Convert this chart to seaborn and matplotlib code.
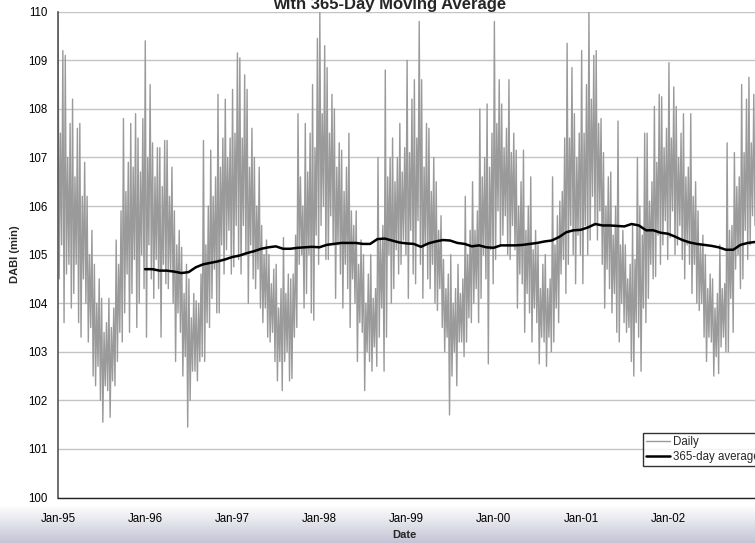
import numpy as np
import pandas as pd
import matplotlib
matplotlib.use("Agg")
import matplotlib.pyplot as plt
import matplotlib.dates as mdates
import seaborn as sns

# ---- data (DABI, minutes) ----
# daily series, sampled: six readings per month (alternating highs and lows)
d1995 = [110.0, 104.5, 107.5, 105.2, 109.2, 103.6,
         109.1, 104.6, 107.0, 104.8, 107.7, 103.9,
         108.2, 104.2, 106.6, 104.8, 107.6, 103.6,
         107.7, 103.3, 106.2, 104.5, 106.9, 104.0,
         106.2, 103.2, 105.0, 103.5, 105.5, 102.5,
         104.8, 102.3, 104.0, 102.7, 104.5, 102.0,
         104.1, 101.55, 103.4, 102.3, 103.6, 102.2,
         104.1, 101.65, 103.5, 102.4, 103.9, 102.3,
         105.3, 102.8, 104.8, 103.4, 105.9, 103.2,
         107.8, 103.8, 106.3, 104.6, 106.9, 103.4,
         107.7, 104.2, 106.8, 104.9, 107.9, 103.5,
         107.4, 104.0, 106.7, 105.0, 107.8, 104.3]
d1996 = [109.4, 103.3, 107.0, 105.2, 108.5, 104.5,
         107.3, 104.1, 106.6, 104.9, 107.2, 104.3,
         107.2, 103.3, 106.4, 104.8, 107.35, 104.4,
         107.35, 104.3, 106.2, 104.7, 106.8, 104.0,
         105.9, 102.8, 105.2, 103.8, 105.5, 103.4,
         105.15, 102.5, 104.2, 102.9, 104.8, 101.45,
         104.5, 102.0, 103.7, 102.6, 104.2, 102.6,
         104.05, 102.4, 104.0, 102.8, 104.6, 102.9,
         107.35, 102.8, 105.2, 103.6, 106.0, 103.5,
         107.15, 104.1, 106.2, 104.7, 106.6, 103.8,
         108.3, 103.8, 106.8, 105.2, 107.4, 104.6,
         108.2, 105.1, 107.0, 105.5, 107.4, 104.6]
d1997 = [108.4, 104.75, 107.5, 105.6, 109.15, 104.9,
         109.05, 104.6, 107.4, 105.6, 108.7, 105.0,
         108.4, 104.0, 106.8, 105.2, 107.6, 104.5,
         107.0, 104.3, 106.0, 104.7, 106.8, 103.9,
         105.6, 103.6, 105.0, 103.9, 105.3, 103.3,
         105.0, 103.2, 104.4, 103.4, 104.7, 102.8,
         104.8, 102.4, 103.9, 102.8, 104.3, 102.2,
         105.35, 102.8, 104.2, 103.0, 104.6, 102.4,
         104.5, 102.45, 104.6, 103.3, 105.4, 103.5,
         107.9, 104.8, 106.6, 105.0, 106.0, 103.9,
         107.7, 104.2, 106.7, 105.0, 107.5, 103.8,
         108.5, 103.65, 107.2, 105.4, 109.45, 104.8]
d1998 = [110.0, 105.6, 107.9, 106.0, 109.3, 104.9,
         108.85, 104.9, 107.5, 105.8, 108.3, 105.2,
         108.0, 104.1, 106.8, 105.2, 107.3, 104.6,
         107.15, 103.9, 106.3, 104.8, 106.8, 104.3,
         107.5, 103.5, 105.9, 104.5, 105.6, 104.0,
         105.9, 102.8, 104.8, 103.6, 105.3, 103.4,
         105.0, 102.2, 104.0, 103.0, 104.6, 102.8,
         105.0, 102.6, 104.1, 103.1, 104.3, 102.7,
         107.0, 103.3, 105.3, 103.9, 105.6, 102.6,
         108.8, 103.3, 106.6, 105.0, 107.0, 104.0,
         107.4, 104.3, 106.5, 105.1, 107.0, 104.6,
         107.7, 104.8, 106.7, 105.3, 107.2, 105.0]
d1999 = [109.0, 104.1, 107.1, 105.5, 108.2, 104.6,
         108.6, 104.4, 107.4, 105.7, 109.8, 104.8,
         108.6, 104.1, 106.8, 105.2, 107.7, 104.5,
         107.6, 104.3, 106.3, 104.8, 107.0, 104.0,
         106.5, 103.85, 105.5, 104.3, 105.8, 103.5,
         104.9, 103.0, 104.3, 103.3, 104.6, 101.7,
         105.0, 102.5, 104.0, 103.0, 104.3, 102.3,
         104.8, 103.2, 104.2, 103.2, 104.5, 102.9,
         106.2, 103.2, 105.0, 103.7, 105.5, 103.6,
         106.5, 104.0, 105.5, 104.3, 105.9, 103.6,
         108.0, 104.1, 106.6, 105.0, 107.0, 104.5,
         108.1, 102.75, 106.8, 105.1, 107.5, 104.4]
d2000 = [109.8, 104.9, 107.7, 105.9, 108.6, 105.2,
         108.1, 105.4, 107.2, 105.8, 107.6, 105.0,
         108.6, 104.9, 107.1, 105.6, 107.5, 105.1,
         107.15, 103.9, 106.0, 104.6, 106.5, 104.4,
         107.15, 103.4, 105.5, 104.2, 106.0, 103.8,
         106.6, 103.2, 105.1, 103.9, 105.5, 103.6,
         105.2, 102.75, 104.3, 103.3, 104.8, 103.2,
         105.0, 102.7, 104.3, 103.3, 104.5, 103.0,
         106.6, 103.2, 105.2, 103.9, 105.8, 103.6,
         106.1, 104.6, 106.3, 104.9, 107.4, 104.2,
         109.35, 104.8, 107.4, 105.6, 108.85, 105.0,
         107.9, 104.4, 107.0, 105.4, 107.5, 105.0]
d2001 = [109.2, 104.4, 107.5, 105.6, 108.5, 105.0,
         110.0, 105.3, 108.2, 106.2, 109.1, 105.6,
         109.2, 105.3, 107.7, 105.9, 107.8, 104.8,
         107.1, 103.9, 106.0, 104.7, 106.6, 104.3,
         106.7, 103.8, 105.4, 104.2, 106.0, 103.4,
         107.75, 103.2, 105.2, 104.0, 105.5, 103.6,
         105.2, 103.4, 104.5, 103.5, 104.8, 102.8,
         105.6, 102.5, 104.9, 103.6, 107.0, 103.3,
         106.0, 102.6, 105.4, 103.9, 107.5, 103.6,
         107.5, 104.1, 106.1, 104.8, 106.5, 104.5,
         108.05, 104.55, 106.9, 105.4, 108.3, 104.8,
         108.25, 105.2, 107.2, 105.7, 107.6, 104.9]
d2002 = [108.95, 105.35, 107.4, 105.9, 108.45, 105.0,
         108.05, 105.2, 107.0, 105.6, 107.5, 104.9,
         107.9, 104.5, 106.6, 105.2, 106.8, 104.8,
         107.9, 104.2, 106.2, 104.8, 106.5, 104.0,
         105.9, 103.85, 105.2, 104.0, 105.4, 103.3,
         105.0, 102.8, 104.3, 103.3, 104.6, 103.2,
         104.5, 102.5, 103.9, 102.9, 104.2, 102.55,
         105.2, 103.1, 104.3, 103.3, 104.4, 103.0,
         107.3, 103.0, 105.5, 104.1, 105.6, 103.4,
         107.1, 104.7, 106.4, 105.0, 106.6, 104.3,
         108.5, 104.5, 107.1, 105.5, 108.2, 104.9,
         108.65, 105.2, 107.3, 105.8, 108.3, 105.6]

# 365-day moving average, monthly readings from Jan-96 to end of 2002
ma1996 = [104.70, 104.70, 104.67, 104.67, 104.65, 104.62, 104.64, 104.74, 104.80, 104.83, 104.86, 104.90]
ma1997 = [104.95, 104.98, 105.03, 105.07, 105.12, 105.15, 105.17, 105.12, 105.12, 105.14, 105.15, 105.16]
ma1998 = [105.15, 105.20, 105.22, 105.24, 105.24, 105.24, 105.22, 105.22, 105.32, 105.33, 105.29, 105.25]
ma1999 = [105.23, 105.22, 105.16, 105.23, 105.27, 105.30, 105.29, 105.24, 105.22, 105.17, 105.19, 105.15]
ma2000 = [105.14, 105.19, 105.19, 105.19, 105.20, 105.22, 105.24, 105.27, 105.29, 105.36, 105.46, 105.50]
ma2001 = [105.51, 105.56, 105.63, 105.60, 105.60, 105.59, 105.58, 105.63, 105.60, 105.50, 105.50, 105.45]
ma2002 = [105.43, 105.37, 105.30, 105.25, 105.22, 105.20, 105.18, 105.15, 105.10, 105.10, 105.20, 105.24, 105.26]

title_text = "with 365-Day Moving Average"
x_label = "Date"
y_label = "DABI (min)"
legend_labels = ["Daily", "365-day average"]

# ---- build frames ----
daily_vals = d1995 + d1996 + d1997 + d1998 + d1999 + d2000 + d2001 + d2002
daily = pd.DataFrame({
    "date": pd.date_range("1995-01-01", "2002-12-31", periods=len(daily_vals)),
    "value": daily_vals,
})
ma_vals = ma1996 + ma1997 + ma1998 + ma1999 + ma2000 + ma2001 + ma2002
ma = pd.DataFrame({
    "date": pd.date_range("1996-01-01", "2002-12-31", periods=len(ma_vals)),
    "value": ma_vals,
})

sns.set_style("white")
plt.rcParams["font.family"] = ["Liberation Sans", "DejaVu Sans"]

W, H = 755, 543
fig = plt.figure(figsize=(W / 100, H / 100), dpi=100)

# bottom gradient band
bg = fig.add_axes([0, 0, 1, 38 / H], zorder=0)
grad = np.linspace(0, 1, 64).reshape(-1, 1)
c_top = np.array([1.0, 1.0, 1.0])
c_bot = np.array([196, 196, 214]) / 255
img = c_bot[None, None, :] * (1 - grad[:, :, None]) + c_top[None, None, :] * grad[:, :, None]
bg.imshow(img, aspect="auto", extent=[0, 1, 0, 1], origin="lower")
bg.set_axis_off()

left, right = 58 / W, 755 / W
top, bottom = 11.7 / H, 497.5 / H
ax = fig.add_axes([left, 1 - bottom, right - left, bottom - top], zorder=1)
ax.patch.set_alpha(0)

sns.lineplot(data=daily, x="date", y="value", ax=ax, color="#9a9a9a", lw=1.0,
             label=legend_labels[0], zorder=2)
sns.lineplot(data=ma, x="date", y="value", ax=ax, color="black", lw=1.8,
             label=legend_labels[1], zorder=3)

ax.set_ylim(100, 110)
ax.set_yticks(range(100, 111))
ax.set_xlim(pd.Timestamp("1995-01-01"), pd.Timestamp("2002-12-31"))
ax.xaxis.set_major_locator(mdates.YearLocator())
ax.xaxis.set_major_formatter(mdates.DateFormatter("%b-%y"))
ax.yaxis.grid(True, color="#c4c4c4", lw=1)
ax.xaxis.grid(False)
ax.set_axisbelow(True)
for s in ["top", "right"]:
    ax.spines[s].set_visible(False)
ax.spines["left"].set_color("#555555")
ax.spines["bottom"].set_color("#222222")
ax.spines["left"].set_linewidth(1.2)
ax.spines["bottom"].set_linewidth(1.0)
ax.tick_params(axis="both", direction="out", length=4, width=1, colors="#222222",
               labelsize=8.3, labelcolor="black")
ax.tick_params(axis="x", pad=7)
ax.set_xlabel("")
ax.set_ylabel("")

fig.text(15 / W, 1 - 254 / H, y_label, rotation=90, ha="center", va="center",
         fontsize=8, fontweight="bold")
fig.text(404 / W, 1 - 535 / H, x_label, ha="center", va="center",
         fontsize=8, fontweight="bold")
fig.text(390 / W, 1 - 8.5 / H, title_text, ha="center", va="baseline",
         fontsize=12, fontweight="bold")

leg = ax.legend(loc="upper left", bbox_to_anchor=(643 / W, 1 - 432.5 / H),
                bbox_transform=fig.transFigure, frameon=True, fancybox=False,
                fontsize=8.3, handlelength=2.0, handletextpad=0.3,
                borderpad=0.3, labelspacing=0.25, borderaxespad=0)
leg.get_frame().set_edgecolor("black")
leg.get_frame().set_linewidth(1.0)
leg.get_frame().set_facecolor("white")

fig.savefig("out.png", dpi=100)
